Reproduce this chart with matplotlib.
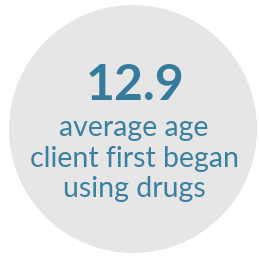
import matplotlib
matplotlib.use("Agg")
import matplotlib.pyplot as plt
from matplotlib.patches import Circle

value = "12.9"
label_lines = ["average age", "client first began", "using drugs"]

W, H = 259, 256
fig = plt.figure(figsize=(W/100, H/100), dpi=100)
ax = fig.add_axes([0, 0, 1, 1])
ax.set_xlim(0, W)
ax.set_ylim(H, 0)
ax.axis("off")
fig.patch.set_facecolor("white")

ax.add_patch(Circle((133, 129), 124, facecolor="#e6e6e6", edgecolor="none"))

ax.text(135, 100, value, ha="center", va="baseline", fontsize=36, fontweight="bold",
        color="#357c9c", family="Lato")
baselines = [136, 167, 197]
for t, y in zip(label_lines, baselines):
    ax.text(134, y, t, ha="center", va="baseline", fontsize=20.5,
            color="#3a80a0", family="Lato")

fig.savefig("out.png", dpi=100)
